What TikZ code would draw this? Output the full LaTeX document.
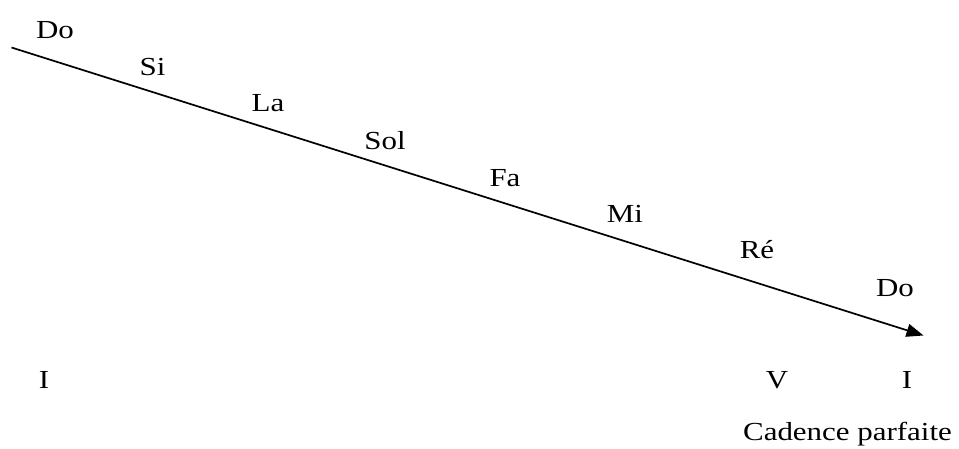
\documentclass[tikz,border=0pt]{standalone}
\usepackage{fontspec}
\setmainfont{Liberation Serif}
\usetikzlibrary{arrows.meta}
\newcommand{\wtxt}[1]{\scalebox{1.19}[1]{#1}}
\begin{document}
\begin{tikzpicture}[x=1pt,y=-1pt,
  lbl/.style={font=\fontsize{26}{30}\selectfont, inner sep=0pt, anchor=base}]
\useasboundingbox (0,0) rectangle (959,448);
\coordinate (s) at (11.5,47.5);
\coordinate (e) at (923.5,335.5);
\draw[line width=1.7pt, -{Triangle[length=17pt,width=13pt]}] (s) -- (e);
\node[lbl] (do1) at (55,38.3) {\wtxt{Do}};
\node[lbl] (si) at (152.5,75) {\wtxt{Si}};
\node[lbl] (la) at (268,111.7) {\wtxt{La}};
\node[lbl] (sol) at (385,149) {\wtxt{Sol}};
\node[lbl] (fa) at (505,186) {\wtxt{Fa}};
\node[lbl] (mi) at (625,222) {\wtxt{Mi}};
\node[lbl] (re) at (757,258.3) {\wtxt{Ré}};
\node[lbl] (do2) at (895,296.7) {\wtxt{Do}};
\node[lbl] (i1) at (44,388) {\wtxt{I}};
\node[lbl] (v) at (777,388) {\wtxt{V}};
\node[lbl] (i2) at (907,388) {\wtxt{I}};
\node[lbl] (cad) at (847.5,440.7) {\wtxt{Cadence parfaite}};
\end{tikzpicture}
\end{document}
